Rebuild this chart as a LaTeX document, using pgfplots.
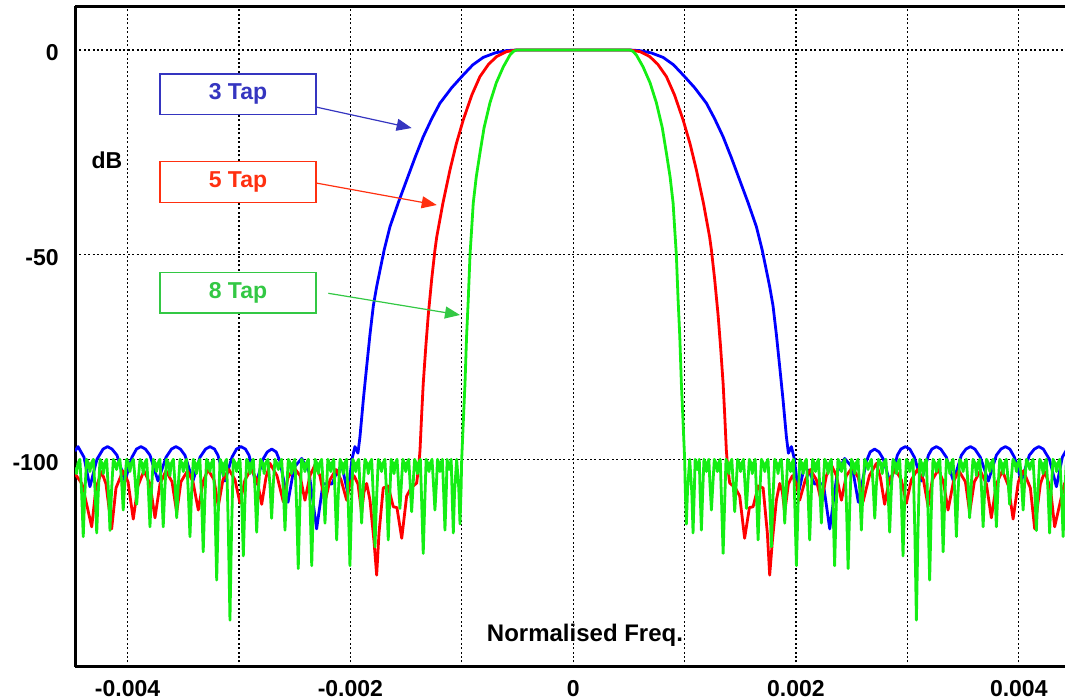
\documentclass[border=0pt]{standalone}
\usepackage{pgfplots}
\pgfplotsset{compat=1.18}
\usepackage{pgfplotstable}
\usetikzlibrary{arrows.meta}
\usepackage{fontspec}
\setmainfont{Liberation Sans}

\definecolor{cblue}{RGB}{0,0,255}
\definecolor{cred}{RGB}{255,0,0}
\definecolor{cgreen}{RGB}{20,238,20}
\definecolor{tblue}{RGB}{53,53,192}
\definecolor{tred}{RGB}{255,48,16}
\definecolor{tgreen}{RGB}{51,200,68}

% x in units of 1e-3 (normalised frequency), y in dB; left half, mirrored for the right
\pgfplotstableread{
f db
-4.472 -98
-4.445 -96.9
-4.391 -99.5
-4.338 -106.7
-4.275 -100
-4.220 -97.5
-4.180 -96.9
-4.140 -97.5
-4.095 -99
-4.023 -105.3
-3.961 -99.5
-3.920 -97.5
-3.880 -96.9
-3.840 -97.5
-3.799 -99
-3.727 -105.3
-3.655 -99.5
-3.606 -97.5
-3.566 -96.9
-3.526 -97.5
-3.485 -99
-3.413 -105.3
-3.350 -99.5
-3.300 -97.5
-3.260 -96.9
-3.220 -97.5
-3.189 -99
-3.126 -105.3
-3.063 -99.5
-3.022 -97.5
-2.982 -96.9
-2.942 -97.5
-2.910 -99
-2.847 -106
-2.785 -100
-2.746 -98.2
-2.706 -97.5
-2.666 -98.2
-2.632 -100.5
-2.560 -110.5
-2.506 -102
-2.437 -99.8
-2.372 -103
-2.303 -117
-2.246 -106
-2.165 -106
-2.120 -103
-2.075 -101.8
-2.022 -108.3
-1.986 -100
-1.959 -96.9
-1.932 -98.5
-1.914 -94.5
-1.884 -85.5
-1.854 -77.4
-1.824 -69.5
-1.794 -62.5
-1.764 -57.8
-1.734 -53.8
-1.697 -48.9
-1.645 -43.2
-1.570 -37.3
-1.495 -31.8
-1.420 -26.3
-1.346 -21.2
-1.270 -16.8
-1.196 -13.0
-1.090 -9.2
-0.987 -6.1
-0.900 -3.6
-0.807 -1.8
-0.700 -0.7
-0.597 -0.15
-0.507 0
0 0
}\tapthree

\pgfplotstableread{
f db
-4.472 -103.5
-4.409 -106
-4.322 -116.5
-4.284 -107
-4.233 -103
-4.194 -106
-4.143 -117
-4.104 -107
-4.041 -102.8
-3.996 -105.5
-3.949 -114.6
-3.907 -106.5
-3.853 -102.8
-3.799 -106
-3.754 -114.3
-3.709 -106
-3.655 -102.8
-3.601 -105.5
-3.559 -113
-3.521 -105.5
-3.462 -102.8
-3.413 -105.5
-3.365 -112.4
-3.323 -105.5
-3.278 -102.5
-3.224 -105
-3.186 -111.5
-3.144 -105
-3.090 -102.5
-3.036 -105
-2.991 -110.7
-2.946 -105
-2.892 -102.5
-2.838 -105
-2.796 -111
-2.758 -104.5
-2.722 -101
-2.659 -104
-2.602 -110.4
-2.560 -104.5
-2.506 -102
-2.452 -104
-2.408 -110
-2.363 -104
-2.318 -101.4
-2.273 -104
-2.228 -110.5
-2.183 -105
-2.129 -102.5
-2.084 -105
-2.033 -110
-2.004 -106
-1.968 -104
-1.932 -106
-1.899 -113
-1.878 -108
-1.854 -105.9
-1.824 -110
-1.788 -120
-1.764 -128.3
-1.743 -118
-1.705 -107
-1.662 -106.5
-1.615 -111.6
-1.582 -111.8
-1.539 -119.3
-1.495 -109
-1.456 -107
-1.405 -105.8
-1.384 -101
-1.375 -97.8
-1.360 -89
-1.346 -81.5
-1.323 -72.5
-1.301 -64.8
-1.270 -56
-1.241 -48.9
-1.225 -45.7
-1.170 -37.5
-1.106 -29.3
-1.050 -23
-0.987 -17.1
-0.910 -11.0
-0.837 -6.5
-0.760 -3.5
-0.687 -1.6
-0.600 -0.4
-0.507 0
0 0
}\tapfive

\pgfplotstableread{
f db
-4.472 -102
-4.458 -103.5
-4.446 -101
-4.428 -100
-4.412 -108.5
-4.398 -118.9
-4.384 -108.5
-4.368 -100
-4.350 -101
-4.338 -103
-4.326 -101
-4.307 -100
-4.291 -108.1
-4.277 -118
-4.263 -108.1
-4.247 -100
-4.230 -101
-4.218 -103.5
-4.206 -101
-4.188 -100
-4.172 -107.8
-4.158 -117.4
-4.144 -107.8
-4.128 -100
-4.111 -101
-4.099 -102.5
-4.087 -101
-4.069 -100
-4.053 -105.6
-4.039 -112.4
-4.025 -105.6
-4.009 -100
-3.991 -101
-3.979 -103
-3.967 -101
-3.948 -100
-3.932 -105
-3.918 -111
-3.904 -105
-3.888 -100
-3.871 -101
-3.859 -103.5
-3.847 -101
-3.829 -100
-3.813 -107.4
-3.799 -116.5
-3.785 -107.4
-3.769 -100
-3.752 -101
-3.740 -103
-3.728 -101
-3.710 -100
-3.694 -107.4
-3.680 -116.5
-3.666 -107.4
-3.650 -100
-3.632 -101
-3.620 -104
-3.608 -101
-3.589 -100
-3.573 -106.4
-3.559 -114.3
-3.545 -106.4
-3.529 -100
-3.512 -101
-3.500 -103
-3.488 -101
-3.470 -100
-3.454 -108.5
-3.440 -118.9
-3.426 -108.5
-3.410 -100
-3.393 -101
-3.381 -103.5
-3.369 -101
-3.351 -100
-3.335 -110.2
-3.321 -122.6
-3.307 -110.2
-3.291 -100
-3.273 -101
-3.261 -103
-3.249 -101
-3.230 -100
-3.214 -113.3
-3.200 -129.5
-3.186 -113.3
-3.170 -100
-3.153 -101
-3.141 -104
-3.129 -101
-3.111 -100
-3.095 -117.7
-3.081 -139.3
-3.067 -117.7
-3.051 -100
-3.033 -101
-3.021 -103
-3.009 -101
-2.991 -100
-2.975 -110.6
-2.961 -123.6
-2.947 -110.6
-2.931 -100
-2.913 -101
-2.901 -103.5
-2.889 -101
-2.871 -100
-2.855 -108
-2.841 -117.8
-2.827 -108
-2.807 -100
-2.786 -101
-2.774 -103.5
-2.762 -101
-2.740 -100
-2.721 -106.5
-2.707 -114.4
-2.693 -106.5
-2.677 -100
-2.659 -101
-2.647 -102.5
-2.635 -101
-2.617 -100
-2.601 -107.8
-2.587 -117.3
-2.573 -107.8
-2.557 -100
-2.540 -101
-2.528 -103.5
-2.516 -101
-2.498 -100
-2.482 -112
-2.468 -126.7
-2.454 -112
-2.438 -100
-2.420 -101
-2.408 -103
-2.396 -101
-2.377 -100
-2.361 -111.7
-2.347 -126
-2.333 -111.7
-2.317 -100
-2.300 -101
-2.288 -103.5
-2.276 -101
-2.258 -100
-2.242 -107
-2.228 -115.6
-2.214 -107
-2.202 -100
-2.187 -101
-2.176 -103
-2.165 -101
-2.149 -100
-2.137 -108.9
-2.123 -119.7
-2.109 -108.9
-2.093 -100
-2.076 -101
-2.064 -103.5
-2.052 -101
-2.034 -100
-2.018 -111.7
-2.004 -126
-1.990 -111.7
-1.978 -100
-1.963 -101
-1.952 -103
-1.941 -101
-1.925 -100
-1.913 -107
-1.899 -115.6
-1.885 -107
-1.869 -100
-1.851 -101
-1.839 -103.5
-1.827 -101
-1.809 -100
-1.793 -109.6
-1.779 -121.4
-1.765 -109.6
-1.749 -100
-1.732 -101
-1.720 -103
-1.708 -101
-1.690 -100
-1.674 -108.9
-1.660 -119.7
-1.646 -108.9
-1.634 -100
-1.619 -101
-1.608 -103.5
-1.597 -101
-1.581 -100
-1.569 -105.4
-1.555 -112
-1.541 -105.4
-1.529 -100
-1.514 -101
-1.503 -103
-1.492 -101
-1.476 -100
-1.464 -105.8
-1.450 -112.8
-1.436 -105.8
-1.424 -100
-1.409 -101
-1.398 -103.5
-1.387 -101
-1.372 -100
-1.360 -110.4
-1.346 -123
-1.332 -110.4
-1.320 -100
-1.305 -101
-1.294 -103
-1.283 -101
-1.267 -100
-1.255 -105.6
-1.241 -112.4
-1.227 -105.6
-1.218 -100
-1.205 -101
-1.196 -103
-1.187 -101
-1.174 -100
-1.163 -107.8
-1.151 -117.3
-1.139 -107.8
-1.132 -100
-1.114 -102.5
-1.095 -100
-1.087 -108.1
-1.076 -118
-1.065 -108.1
-1.046 -100
-1.027 -107.1
-1.016 -115.8
-1.006 -107.1
-1.001 -100.2
-0.985 -90
-0.971 -81.4
-0.957 -70
-0.942 -61.1
-0.926 -50
-0.912 -44
-0.897 -37.4
-0.870 -31
-0.837 -25.2
-0.800 -19
-0.747 -12.9
-0.690 -8
-0.627 -4.1
-0.567 -1.2
-0.535 -0.3
-0.507 0
0 0
}\tapeight

\begin{document}
\begin{tikzpicture}
\begin{axis}[
    name=ax,
    scale only axis,
    width=495bp, height=330.1bp,
    xmin=-4.472, xmax=4.415,
    ymin=-150.67, ymax=10.63,
    axis x line*=bottom, axis y line*=left,
    axis line style={line width=1.5bp, black},
    xtick={-4,-3,...,4},
    xticklabels={-0.004,,-0.002,,0,,0.002,,0.004},
    ytick={-100,-50,0},
    yticklabels={-100,-50,0},
    major tick length=0pt,
    grid=major,
    grid style={black, line width=0.6bp, dash pattern=on 1bp off 1.2bp},
    tick label style={font=\fontsize{11.5bp}{13bp}\selectfont\bfseries},
    xticklabel style={anchor=base, yshift=-15bp},
    yticklabel style={anchor=east, inner sep=0pt, xshift=-8bp, yshift=-1.5bp},
    clip mode=individual,
    every axis plot/.append style={line width=1.4bp, line join=round, mark=none},
  ]
  \addplot[cblue] table[x=f, y=db] {\tapthree};
  \addplot[cblue] table[x expr=-\thisrow{f}, y=db] {\tapthree};
  \addplot[cred] table[x=f, y=db] {\tapfive};
  \addplot[cred] table[x expr=-\thisrow{f}, y=db] {\tapfive};
  \addplot[cgreen] table[x=f, y=db] {\tapeight};
  \addplot[cgreen] table[x expr=-\thisrow{f}, y=db] {\tapeight};

  \draw[line width=1.5bp] (rel axis cs:0,1) -- (rel axis cs:1,1);

  \node[font=\fontsize{11.5bp}{13bp}\selectfont\bfseries] at (axis cs:-4.185,-26.9) {dB};
  \node[font=\fontsize{12bp}{14bp}\selectfont\bfseries] at (axis cs:0.106,-142.9) {Normalised Freq.};

  \node[draw=tblue, line width=0.7bp, fill=white, minimum width=78bp, minimum height=20.3bp, inner sep=0pt,
        text=tblue, font=\fontsize{11.5bp}{13bp}\selectfont\bfseries] at (axis cs:-3.009,-10.82) {3 Tap};
  \node[draw=tred, line width=0.7bp, fill=white, minimum width=78bp, minimum height=20.3bp, inner sep=0pt,
        text=tred, font=\fontsize{11.5bp}{13bp}\selectfont\bfseries] at (axis cs:-3.009,-32.25) {5 Tap};
  \node[draw=tgreen, line width=0.7bp, fill=white, minimum width=78bp, minimum height=20.3bp, inner sep=0pt,
        text=tgreen, font=\fontsize{11.5bp}{13bp}\selectfont\bfseries] at (axis cs:-3.009,-59.25) {8 Tap};

  \draw[tblue, line width=0.6bp, -{Triangle[length=7.5bp,width=6bp]}] (axis cs:-2.309,-13.93) -- (axis cs:-1.450,-19.06);
  \draw[tred, line width=0.6bp, -{Triangle[length=7.5bp,width=6bp]}] (axis cs:-2.309,-32.49) -- (axis cs:-1.225,-37.87);
  \draw[tgreen, line width=0.6bp, -{Triangle[length=7.5bp,width=6bp]}] (axis cs:-2.198,-59.44) -- (axis cs:-1.016,-64.74);
\end{axis}
\pgfresetboundingbox
\useasboundingbox ([shift={(-37.5bp,-16.65bp)}]ax.south west) rectangle ([shift={(0bp,3.25bp)}]ax.north east);
\end{tikzpicture}
\end{document}
